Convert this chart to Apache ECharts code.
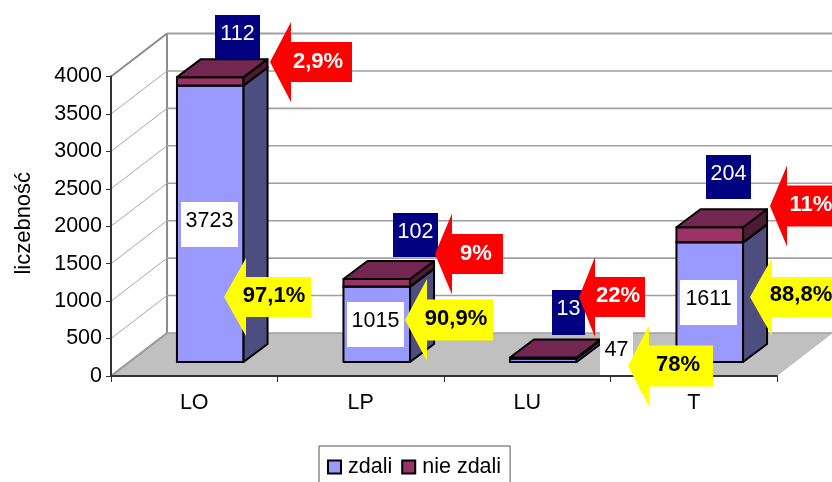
<!DOCTYPE html>
<html>
<head>
<meta charset="utf-8">
<script src="https://cdn.jsdelivr.net/npm/echarts@6/dist/echarts.min.js"></script>
<style>html,body{margin:0;padding:0;background:#fff}#c{width:832px;height:482px}</style>
</head>
<body>
<div id="c"></div>
<script>
var categories = ['LO', 'LP', 'LU', 'T'];
var zdali = [3723, 1015, 47, 1611];
var nieZdali = [112, 102, 13, 204];
var procentZdali = ['97,1%', '90,9%', '78%', '88,8%'];
var procentNieZdali = ['2,9%', '9%', '22%', '11%'];
var yTicks = [0, 500, 1000, 1500, 2000, 2500, 3000, 3500, 4000];

var FONT = '"Liberation Sans", Arial, sans-serif';
var FS = 21.5, FSB = 22;
var WALL_DX = 56, WALL_DY = -43;      // projection of the plot depth
var BAR_DX = 24, BAR_DY = -18;        // projection of a bar's depth
var BAR_SHIFT_X = 16, BAR_SHIFT_Y = -14; // bar position inside the depth
var BAR_PERSPECTIVE = 0.992;          // bars stand further back than the front plane

function poly(points, fill, stroke, lw) {
  return { type: 'polygon', shape: { points: points },
    style: { fill: fill, stroke: stroke || null, lineWidth: lw || 0, lineJoin: 'round' } };
}
function seg(x1, y1, x2, y2, color, lw) {
  return { type: 'line', shape: { x1: x1, y1: y1, x2: x2, y2: y2 },
    style: { stroke: color, lineWidth: lw, fill: null } };
}
function floorItem(params, api) {
  var cs = params.coordSys, x0 = cs.x, x1 = cs.x + cs.width, y0 = api.coord([0, 0])[1];
  var yT = api.coord([0, yTicks[yTicks.length - 1]])[1];
  return { type: 'group', children: [
    poly([[x0, y0], [x0 + WALL_DX, y0 + WALL_DY], [x1 + WALL_DX, y0 + WALL_DY], [x1, y0]], '#C0C0C0'),
    seg(x0 + WALL_DX, yT + WALL_DY, x0 + WALL_DX, y0 + WALL_DY, '#8C8C8C', 2),
    seg(x0, y0, x0 + WALL_DX, y0 + WALL_DY, '#8C8C8C', 2)
  ] };
}
function gridItem(params, api) {
  var cs = params.coordSys, x0 = cs.x, x1 = cs.x + cs.width, y = api.coord([0, api.value(1)])[1];
  var top = api.value(1) === yTicks[yTicks.length - 1];
  return { type: 'group', children: [
    seg(x0, y, x0 + WALL_DX, y + WALL_DY, top ? '#8C8C8C' : '#A8A8A8', top ? 2 : 1),
    seg(x0 + WALL_DX, y + WALL_DY, x1 + WALL_DX, y + WALL_DY, '#A0A0A0', top ? 2 : 1.6)
  ] };
}
function barRenderer(front, side, top) {
  return function (params, api) {
    var c = api.value(0);
    var a = api.coord([c, api.value(1)]), b = api.coord([c, api.value(2)]);
    var y0 = api.coord([c, 0])[1];
    var w = api.size([1, 0])[0] * 0.4;
    var l = a[0] + BAR_SHIFT_X - w / 2, r = l + w;
    var yb = y0 + BAR_SHIFT_Y + (a[1] - y0) * BAR_PERSPECTIVE;
    var yt = y0 + BAR_SHIFT_Y + (b[1] - y0) * BAR_PERSPECTIVE;
    return { type: 'group', children: [
      poly([[l, yb], [r, yb], [r, yt], [l, yt]], front, '#000', 2),
      poly([[r, yb], [r + BAR_DX, yb + BAR_DY], [r + BAR_DX, yt + BAR_DY], [r, yt]], side, '#000', 2),
      poly([[l, yt], [r, yt], [r + BAR_DX, yt + BAR_DY], [l + BAR_DX, yt + BAR_DY]], top, '#000', 2)
    ] };
  };
}
function labelBox(x, y, w, h, bg, color, text) {
  return { type: 'group', z: 50, silent: true, children: [
    { type: 'rect', z: 50, shape: { x: x, y: y, width: w, height: h }, style: { fill: bg } },
    { type: 'text', z: 51, x: x + w / 2, y: y + h / 2 - 3,
      style: { text: String(text), fill: color, font: FS + 'px ' + FONT, align: 'center', verticalAlign: 'middle' } }
  ] };
}
function arrow(tipX, tipY, backX, endX, halfHead, halfTail, fill, color, text, tx, ty) {
  return { type: 'group', z: 60, silent: true, children: [
    { type: 'polygon', z: 60, shape: { points: [
      [tipX, tipY], [backX, tipY - halfHead], [backX, tipY - halfTail], [endX, tipY - halfTail],
      [endX, tipY + halfTail], [backX, tipY + halfTail], [backX, tipY + halfHead]] }, style: { fill: fill } },
    { type: 'text', z: 61, x: tx, y: ty + 1.5,
      style: { text: text, fill: color, font: 'bold ' + FSB + 'px ' + FONT, align: 'center', verticalAlign: 'middle' } }
  ] };
}
var NAVY = '#000080', WHITE = '#FFFFFF', RED = '#FF0000', YEL = '#FFFF00', BLK = '#000000';
var graphics = [
  labelBox(215, 15, 45, 44, NAVY, WHITE, nieZdali[0]),
  labelBox(393, 213, 45, 44, NAVY, WHITE, nieZdali[1]),
  labelBox(552, 290, 33, 45, NAVY, WHITE, nieZdali[2]),
  labelBox(706, 155, 45, 44, NAVY, WHITE, nieZdali[3]),
  labelBox(181, 202, 57, 45, WHITE, BLK, zdali[0]),
  labelBox(347, 302, 57, 45, WHITE, BLK, zdali[1]),
  labelBox(600, 331, 33, 44, WHITE, BLK, zdali[2]),
  labelBox(680, 280, 57, 45, WHITE, BLK, zdali[3]),
  arrow(270, 62, 291, 352, 40, 20, RED, WHITE, procentNieZdali[0], 318, 60),
  arrow(435, 254, 452, 503, 40.5, 20, RED, WHITE, procentNieZdali[1], 476, 252),
  arrow(579, 297, 595, 645, 40, 20, RED, WHITE, procentNieZdali[2], 618, 294),
  arrow(770, 206, 787, 840, 40.5, 20.5, RED, WHITE, procentNieZdali[3], 811, 203),
  arrow(224, 297, 246, 311, 39, 20, YEL, BLK, procentZdali[0], 274, 294),
  arrow(405, 320, 427, 493, 41, 20.5, YEL, BLK, procentZdali[1], 456, 317),
  arrow(750, 297, 772, 840, 39, 20, YEL, BLK, procentZdali[3], 801, 293),
  arrow(628, 366, 649, 713, 40.5, 20.5, YEL, BLK, procentZdali[2], 678, 363)
];

var chart = echarts.init(document.getElementById('c'), null, { renderer: 'canvas' });
chart.setOption({
  animation: false,
  backgroundColor: '#fff',
  textStyle: { fontFamily: FONT },
  grid: { left: 111, top: 76.5, width: 666, height: 299.5, containLabel: false },
  xAxis: {
    type: 'category', data: categories, z: 5,
    axisLine: { lineStyle: { color: '#333', width: 2 } },
    axisTick: { show: true, length: 6, lineStyle: { color: '#333', width: 1 } },
    axisLabel: { color: '#000', fontSize: FS, margin: 16, fontFamily: FONT },
    splitLine: { show: false }
  },
  yAxis: {
    type: 'value', min: 0, max: 4000, interval: 500, z: 5,
    name: 'liczebność', nameLocation: 'middle', nameRotate: 90, nameGap: 76,
    nameTextStyle: { color: '#000', fontSize: 22, fontFamily: FONT, padding: [0, 0, 0, 6] },
    axisLine: { show: true, lineStyle: { color: '#333', width: 2 } },
    axisTick: { show: true, length: 5, lineStyle: { color: '#333', width: 1 } },
    axisLabel: { color: '#000', fontSize: FS, margin: 9, fontFamily: FONT, formatter: function (v) { return String(v); } },
    splitLine: { show: false }
  },
  legend: {
    data: ['zdali', 'nie zdali'], left: 319, top: 446, orient: 'horizontal',
    padding: [10, 9, 30, 8], itemGap: 9, itemWidth: 13, itemHeight: 13, icon: 'rect',
    borderColor: '#555', borderWidth: 1, backgroundColor: '#fff',
    textStyle: { color: '#000', fontSize: FS, fontFamily: FONT, padding: [0, 0, 0, 2] },
    itemStyle: { borderColor: '#000', borderWidth: 2 }
  },
  graphic: { elements: graphics },
  series: [
    { type: 'custom', name: 'floor', z: 1, silent: true, renderItem: floorItem,
      encode: { x: 0, y: 1 }, data: [[0, 0]] },
    { type: 'custom', name: 'grid', z: 2, silent: true, renderItem: gridItem,
      encode: { x: 0, y: 1 }, data: yTicks.map(function (v) { return [0, v]; }) },
    { type: 'custom', name: 'zdali', z: 3, silent: true,
      itemStyle: { color: '#9999FF' },
      renderItem: barRenderer('#9999FF', '#4D4D80', '#4D4D80'), encode: { x: 0, y: [1, 2] },
      data: zdali.map(function (v, i) { return [i, 0, v]; }) },
    { type: 'custom', name: 'nie zdali', z: 4, silent: true,
      itemStyle: { color: '#993366' },
      renderItem: barRenderer('#993366', '#4D1A33', '#732650'), encode: { x: 0, y: [1, 2] },
      data: nieZdali.map(function (v, i) { return [i, zdali[i], zdali[i] + v]; }) }
  ]
});
</script>
</body>
</html>
